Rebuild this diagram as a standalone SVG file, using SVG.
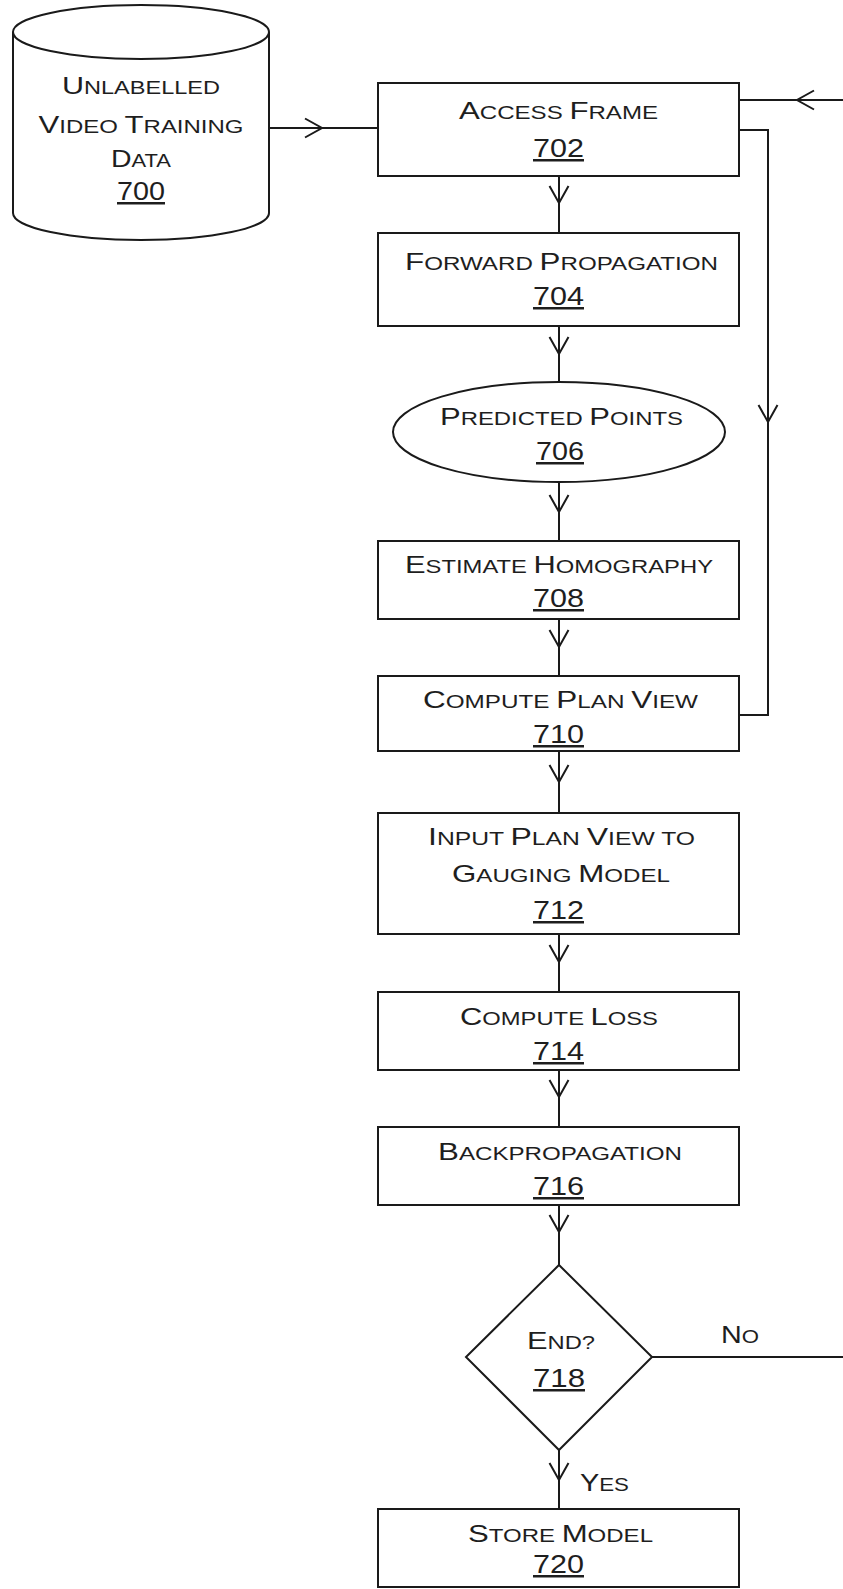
<svg xmlns="http://www.w3.org/2000/svg" width="843" height="1589" viewBox="0 0 843 1589">
  <style>
    .shape { fill: #ffffff; stroke: #1a1a1a; stroke-width: 2; }
    .wire { fill: none; stroke: #1a1a1a; stroke-width: 2; }
    .arrowed { marker-mid: url(#chev); }
    text { font-family: "Liberation Sans", Arial, sans-serif; fill: #1e1e1e; text-anchor: middle; font-size: 24px; }
    .sc { font-size: 18.5px; }
    .ref { text-decoration: underline; font-size: 25px; }
  </style>
  <defs>
    <marker id="chev" markerUnits="userSpaceOnUse" markerWidth="22" markerHeight="24" viewBox="-19 -12 22 24" refX="0" refY="0" orient="auto" overflow="visible">
      <path d="M-17,-9.5 L0,0 L-17,9.5" fill="none" stroke="#1a1a1a" stroke-width="2"/>
    </marker>
  </defs>

  <rect width="843" height="1589" fill="#ffffff"/>

  <!-- connectors -->
  <g id="connectors">
    <path class="wire arrowed" d="M269,128 H322 H378"/>
    <path class="wire arrowed" d="M843,100 H797 H739"/>
    <path class="wire arrowed" d="M559,176 V203 V233"/>
    <path class="wire arrowed" d="M559,326 V354 V383"/>
    <path class="wire" d="M739,130 H768 V422" marker-end="url(#chev)"/>
    <path class="wire" d="M768,422 V715 H739"/>
    <path class="wire arrowed" d="M559,482 V512 V541"/>
    <path class="wire arrowed" d="M559,619 V647 V676"/>
    <path class="wire arrowed" d="M559,751 V782 V813"/>
    <path class="wire arrowed" d="M559,934 V962 V992"/>
    <path class="wire arrowed" d="M559,1070 V1097 V1127"/>
    <path class="wire arrowed" d="M559,1205 V1232 V1265"/>
    <path class="wire arrowed" d="M559,1450 V1480 V1509"/>
    <path class="wire" d="M652,1357 H843"/>
    <text x="740" y="1343" textLength="38" lengthAdjust="spacingAndGlyphs">N<tspan class="sc">O</tspan></text>
    <text x="604.5" y="1491" textLength="49" lengthAdjust="spacingAndGlyphs">Y<tspan class="sc">ES</tspan></text>
  </g>

  <!-- data store -->
  <g id="n700">
    <path class="shape" d="M13,32 V213 A128,27 0 0 0 269,213 V32"/>
    <ellipse class="shape" cx="141" cy="32" rx="128" ry="27"/>
    <text x="141" y="94" textLength="158" lengthAdjust="spacingAndGlyphs">U<tspan class="sc">NLABELLED</tspan></text>
    <text x="141" y="133" textLength="205" lengthAdjust="spacingAndGlyphs">V<tspan class="sc">IDEO </tspan>T<tspan class="sc">RAINING</tspan></text>
    <text x="141" y="167" textLength="60" lengthAdjust="spacingAndGlyphs">D<tspan class="sc">ATA</tspan></text>
    <text class="ref" x="141" y="200" textLength="48" lengthAdjust="spacingAndGlyphs">700</text>
  </g>

  <g id="n702">
    <rect class="shape" x="378" y="83" width="361" height="93"/>
    <text x="558.5" y="119" textLength="199" lengthAdjust="spacingAndGlyphs">A<tspan class="sc">CCESS </tspan>F<tspan class="sc">RAME</tspan></text>
    <text class="ref" x="558.5" y="157" textLength="51" lengthAdjust="spacingAndGlyphs">702</text>
  </g>

  <g id="n704">
    <rect class="shape" x="378" y="233" width="361" height="93"/>
    <text x="561.5" y="270" textLength="313" lengthAdjust="spacingAndGlyphs">F<tspan class="sc">ORWARD </tspan>P<tspan class="sc">ROPAGATION</tspan></text>
    <text class="ref" x="558.5" y="305" textLength="51" lengthAdjust="spacingAndGlyphs">704</text>
  </g>

  <g id="n706">
    <ellipse class="shape" cx="559" cy="432" rx="166" ry="50"/>
    <text x="561.5" y="425" textLength="243" lengthAdjust="spacingAndGlyphs">P<tspan class="sc">REDICTED </tspan>P<tspan class="sc">OINTS</tspan></text>
    <text class="ref" x="560" y="460" textLength="48" lengthAdjust="spacingAndGlyphs">706</text>
  </g>

  <g id="n708">
    <rect class="shape" x="378" y="541" width="361" height="78"/>
    <text x="559" y="573" textLength="308" lengthAdjust="spacingAndGlyphs">E<tspan class="sc">STIMATE </tspan>H<tspan class="sc">OMOGRAPHY</tspan></text>
    <text class="ref" x="558.5" y="607" textLength="51" lengthAdjust="spacingAndGlyphs">708</text>
  </g>

  <g id="n710">
    <rect class="shape" x="378" y="676" width="361" height="75"/>
    <text x="560.5" y="708" textLength="275" lengthAdjust="spacingAndGlyphs">C<tspan class="sc">OMPUTE </tspan>P<tspan class="sc">LAN </tspan>V<tspan class="sc">IEW</tspan></text>
    <text class="ref" x="558.5" y="743" textLength="51" lengthAdjust="spacingAndGlyphs">710</text>
  </g>

  <g id="n712">
    <rect class="shape" x="378" y="813" width="361" height="121"/>
    <text x="561.5" y="845" textLength="267" lengthAdjust="spacingAndGlyphs">I<tspan class="sc">NPUT </tspan>P<tspan class="sc">LAN </tspan>V<tspan class="sc">IEW TO</tspan></text>
    <text x="561" y="882" textLength="218" lengthAdjust="spacingAndGlyphs">G<tspan class="sc">AUGING </tspan>M<tspan class="sc">ODEL</tspan></text>
    <text class="ref" x="558.5" y="919" textLength="51" lengthAdjust="spacingAndGlyphs">712</text>
  </g>

  <g id="n714">
    <rect class="shape" x="378" y="992" width="361" height="78"/>
    <text x="559" y="1025" textLength="198" lengthAdjust="spacingAndGlyphs">C<tspan class="sc">OMPUTE </tspan>L<tspan class="sc">OSS</tspan></text>
    <text class="ref" x="558.5" y="1060" textLength="51" lengthAdjust="spacingAndGlyphs">714</text>
  </g>

  <g id="n716">
    <rect class="shape" x="378" y="1127" width="361" height="78"/>
    <text x="560" y="1160" textLength="244" lengthAdjust="spacingAndGlyphs">B<tspan class="sc">ACKPROPAGATION</tspan></text>
    <text class="ref" x="558.5" y="1195" textLength="51" lengthAdjust="spacingAndGlyphs">716</text>
  </g>

  <g id="n718">
    <path class="shape" d="M559,1265 L652,1357 L559,1450 L466,1357 Z"/>
    <text x="561" y="1349" textLength="68" lengthAdjust="spacingAndGlyphs">E<tspan class="sc">ND?</tspan></text>
    <text class="ref" x="559" y="1387" textLength="52" lengthAdjust="spacingAndGlyphs">718</text>
  </g>

  <g id="n720">
    <rect class="shape" x="378" y="1509" width="361" height="78"/>
    <text x="560.5" y="1542" textLength="185" lengthAdjust="spacingAndGlyphs">S<tspan class="sc">TORE </tspan>M<tspan class="sc">ODEL</tspan></text>
    <text class="ref" x="558.5" y="1573" textLength="51" lengthAdjust="spacingAndGlyphs">720</text>
  </g>
</svg>
